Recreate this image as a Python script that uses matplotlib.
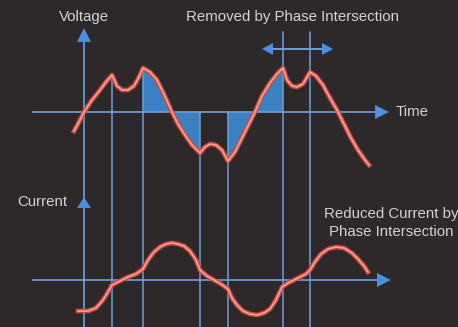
import matplotlib.pyplot as plt
from matplotlib.patches import Polygon
import matplotlib.patheffects as pe
import numpy as np

# colors
BG = "#2d292b"
AXIS = "#6e9fda"
HEAD = "#4a8fe2"
FILL = "#3b80c3"
TXT = "#d3d3d3"

# -------------------------------------------------
# DATA (time in arbitrary units, 0 = voltage axis)
# -------------------------------------------------
volt_t = [-10, -5, 0, 8, 16, 22, 28, 33, 38, 44, 50, 55, 59, 66, 73, 79, 84, 88, 94, 101,
          108, 116, 121, 126, 132, 138, 144, 151, 158, 165, 171, 178, 186, 193, 199, 203,
          208, 213, 219, 226, 232, 239, 246, 253, 260, 267, 274, 281, 285]
volt_v = [-19, -10, 0, 12, 22, 30, 37, 26, 22, 22, 26, 35, 44, 40, 32, 20, 9, 0, -12, -23,
          -33, -41, -35, -32, -33, -38, -49, -40, -26, -12, 0, 16, 29, 38, 44, 32,
          26, 25, 28, 40, 36, 27, 14, 2, -12, -26, -38, -48, -53]

curr_t = [-6, 4, 12, 19, 24, 28, 36, 44, 52, 59, 64, 70, 76, 82, 88, 94, 100, 106, 112, 116,
          123, 130, 137, 144, 148, 153, 159, 166, 173, 180, 186, 192, 198, 204, 210, 216,
          222, 226, 231, 237, 244, 252, 260, 268, 274, 280, 284]
curr_i = [-31, -31, -28, -20, -12, -5, -1, 3, 6, 11, 20, 28, 33, 36, 37, 36, 34, 29, 20, 10,
          4, 0, -4, -9, -18, -25, -31, -34, -35, -33, -29, -20, -7, -3, 0, 3, 6, 10, 18, 26,
          31, 33, 32, 27, 21, 14, 8]

# phase cut instants and where each guide line starts (voltage units)
cut_t = [28, 59, 116, 144, 199, 226]
cut_top = [37, 44, 0, 0, 80, 80]

# removed (shaded) intervals
removed = [(59, 116), (144, 199)]
# intersection window marked by the double arrow
window = (178, 249)

# layout
I_BASE = -168      # where the current axis sits
X0, X1 = -84, 374
Y0, Y1 = -215, 112


def head(ax, tip, direction, length=14, half=7, color=HEAD):
    tx, ty = tip
    dx, dy = direction
    bx, by = tx - dx * length, ty - dy * length
    px, py = -dy * half, dx * half
    ax.add_patch(Polygon([(tx, ty), (bx + px, by + py), (bx - px, by - py)],
                         closed=True, facecolor=color, edgecolor="none", zorder=5))


fig = plt.figure(figsize=(4.58, 3.27), dpi=100)
fig.patch.set_facecolor(BG)
ax = fig.add_axes([0, 0, 1, 1])
ax.set_facecolor(BG)
ax.set_xlim(X0, X1)
ax.set_ylim(Y0, Y1)
ax.axis("off")

vt = np.array(volt_t)
vv = np.array(volt_v)
mask = np.zeros(len(vt), dtype=bool)
for a, b in removed:
    mask |= (vt >= a) & (vt <= b)
ax.fill_between(vt, vv, 0, where=mask, color=FILL, lw=0, zorder=1)

# guide lines
for t, top in zip(cut_t, cut_top):
    ax.plot([t, t], [top, Y0], color=AXIS, lw=1.1, zorder=2)

# axes
ax.plot([0, 0], [72, Y0], color=AXIS, lw=1.2, zorder=2)
head(ax, (0, 84), (0, 1))
head(ax, (0, I_BASE + 83), (0, 1), length=11)
ax.plot([-51, 292], [0, 0], color=AXIS, lw=1.2, zorder=2)
head(ax, (305, 0), (1, 0))
ax.plot([-51, 295], [I_BASE, I_BASE], color=AXIS, lw=1.2, zorder=2)
head(ax, (307, I_BASE), (1, 0))

# double arrow
ax.plot([window[0] + 8, window[1] - 8], [63, 63], color=AXIS, lw=1.4, zorder=2)
head(ax, (window[0], 63), (-1, 0), length=11, half=6)
head(ax, (window[1], 63), (1, 0), length=11, half=6)

# curves
glow = [pe.Stroke(linewidth=3.4, foreground="#d24a3f", alpha=0.95), pe.Normal()]
ax.plot(vt, vv, color="#f4a092", lw=1.3, solid_joinstyle="round", zorder=4, path_effects=glow)
ax.plot(curr_t, np.array(curr_i) + I_BASE, color="#f4a092", lw=1.3,
        solid_joinstyle="round", zorder=4, path_effects=glow)

# labels
fkw = dict(color=TXT, fontsize=10.8, family=["Liberation Sans", "DejaVu Sans"])
ax.text(0, 95, "Voltage", ha="center", va="center", **fkw)
ax.text(208, 95, "Removed by Phase Intersection", ha="center", va="center", **fkw)
ax.text(312, 0, "Time", ha="left", va="center", **fkw)
ax.text(-42, I_BASE + 78, "Current", ha="center", va="center", **fkw)
ax.text(307, I_BASE + 57, "Reduced Current by\nPhase Intersection", ha="center",
        va="center", linespacing=1.3, **fkw)

plt.savefig("out.png", dpi=100, facecolor=BG)
